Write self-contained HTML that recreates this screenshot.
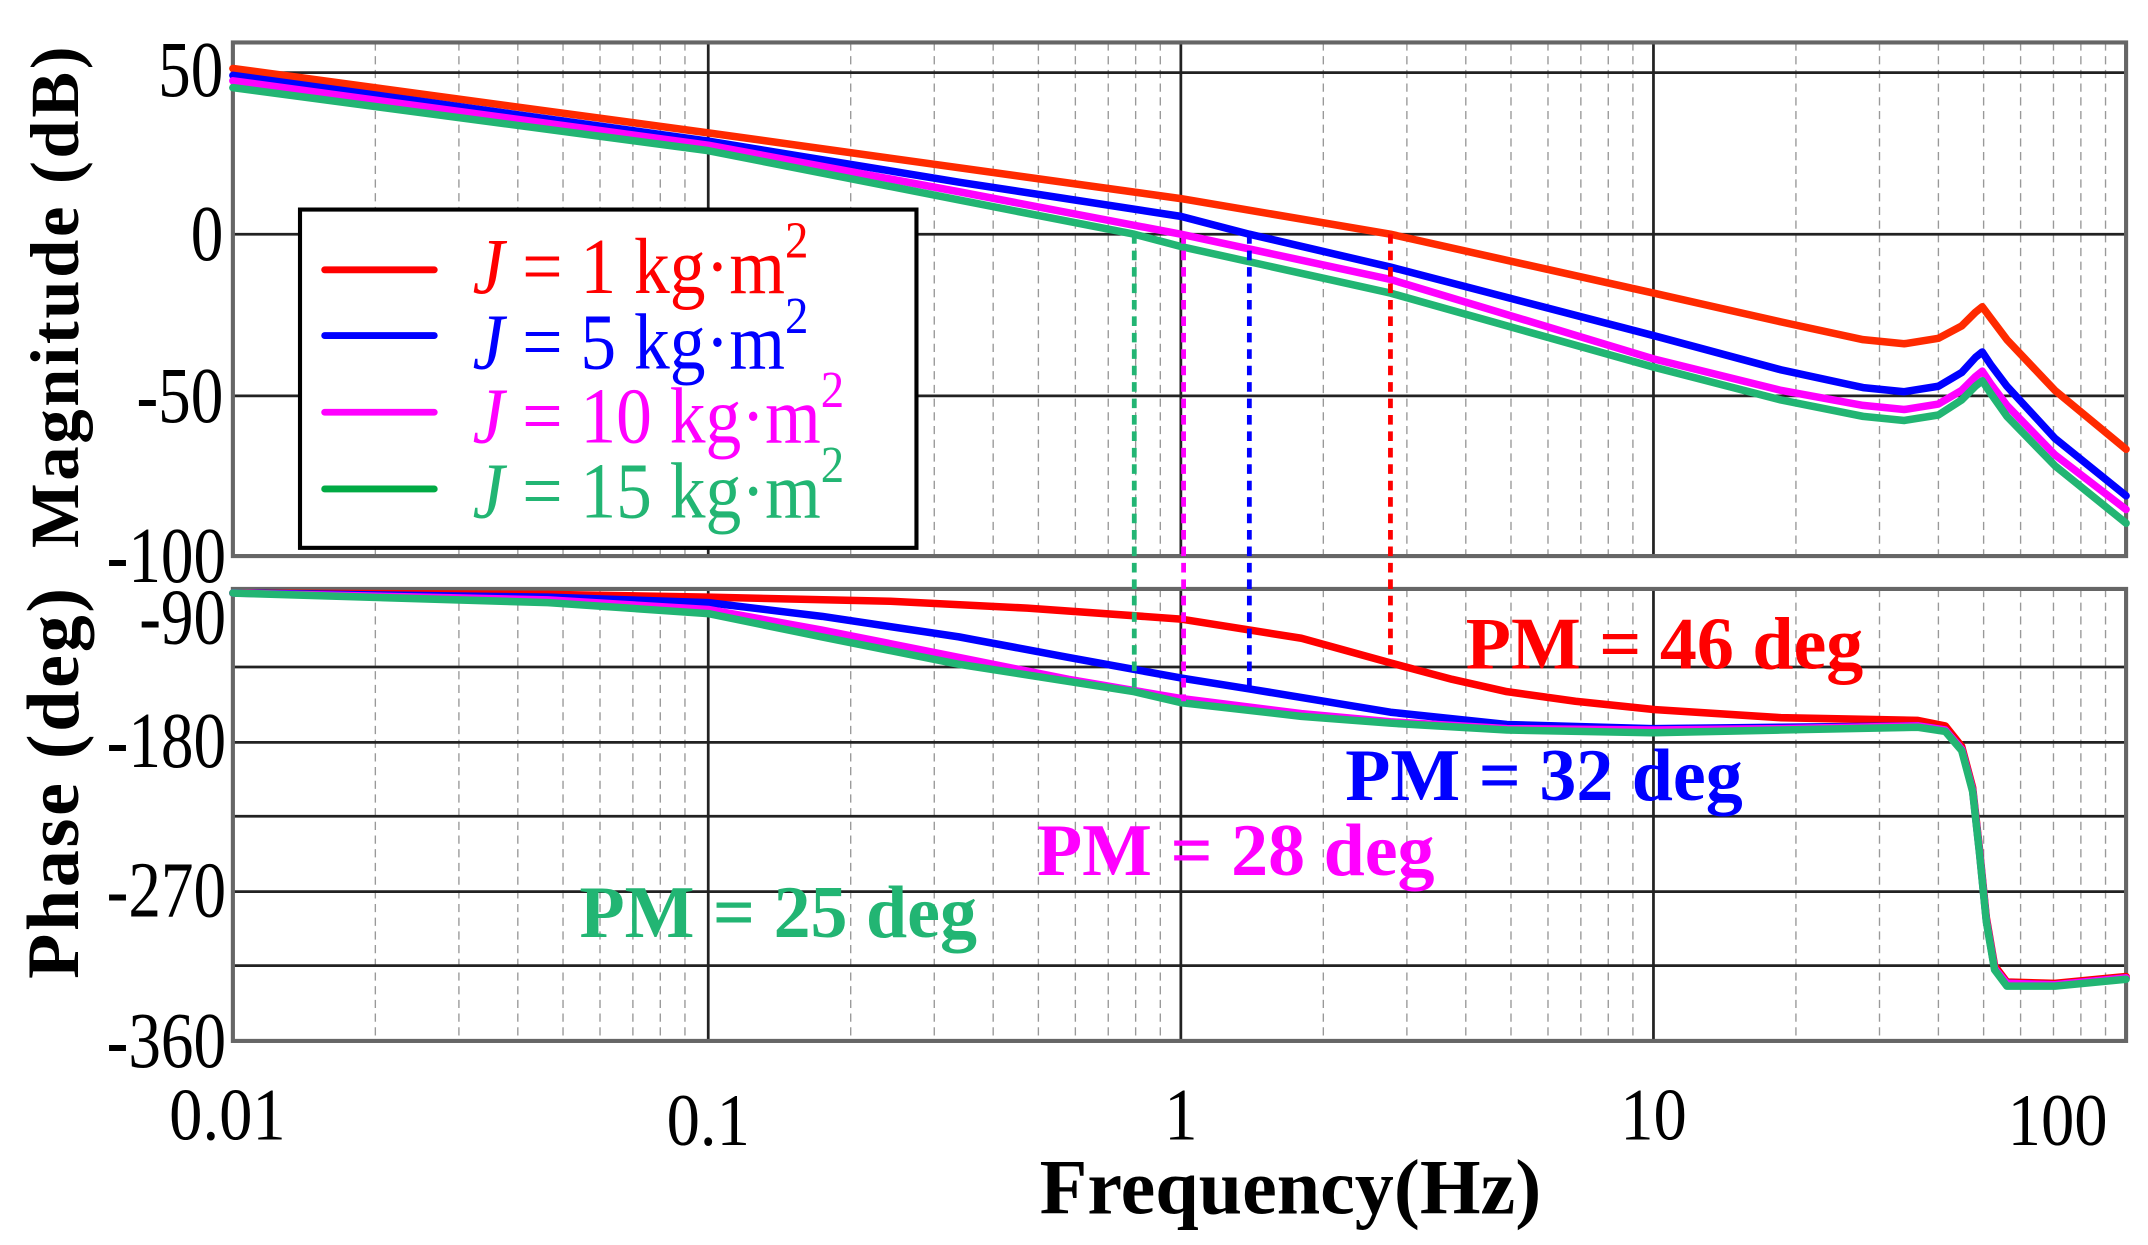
<!DOCTYPE html>
<html><head><meta charset="utf-8"><style>html,body{margin:0;padding:0;background:#fff}svg{display:block}</style></head>
<body>
<svg width="2148" height="1245" viewBox="0 0 1568 909" preserveAspectRatio="none" xmlns="http://www.w3.org/2000/svg" font-family="Liberation Serif, serif">
<rect width="1568" height="909" fill="#fff"/>
<g id="grid">
<g stroke="#999" stroke-width="1" stroke-dasharray="6,4">
<path d="M274 31V406M335 31V406M378 31V406M411 31V406M438 31V406M462 31V406M482 31V406M500 31V406
M621 31V406M682 31V406M725 31V406M758 31V406M785 31V406M809 31V406M829 31V406M847 31V406
M966 31V406M1027 31V406M1070 31V406M1103 31V406M1130 31V406M1154 31V406M1174 31V406M1192 31V406
M1311 31V406M1372 31V406M1415 31V406M1448 31V406M1475 31V406M1499 31V406M1519 31V406M1537 31V406"/>
<path d="M274 430V760M335 430V760M378 430V760M411 430V760M438 430V760M462 430V760M482 430V760M500 430V760
M621 430V760M682 430V760M725 430V760M758 430V760M785 430V760M809 430V760M829 430V760M847 430V760
M966 430V760M1027 430V760M1070 430V760M1103 430V760M1130 430V760M1154 430V760M1174 430V760M1192 430V760
M1311 430V760M1372 430V760M1415 430V760M1448 430V760M1475 430V760M1499 430V760M1519 430V760M1537 430V760"/>
</g>
<g stroke="#222" stroke-width="2">
<path d="M517 31V406M862 31V406M1207 31V406M170 53H1552M170 171H1552M170 289H1552"/>
<path d="M517 430V760M862 430V760M1207 430V760M170 487H1552M170 542H1552M170 596H1552M170 651H1552M170 705H1552"/>
</g>
<rect x="170" y="31" width="1382" height="375" fill="none" stroke="#666" stroke-width="3"/>
<rect x="170" y="430" width="1382" height="330" fill="none" stroke="#666" stroke-width="3"/>
</g>
<g fill="none" stroke-width="5.5" stroke-linejoin="round" stroke-linecap="round">
<polyline stroke="#ff2a00" points="170,50 517,97 862,145 1015,171 1207,214 1300,235 1360,248 1390,251 1415,247 1432,238 1442,228 1447,224 1453,232 1465,248 1500,285 1552,328"/>
<polyline stroke="#0000ff" points="170,55 517,103 700,133 862,158 912,171 1015,195 1207,245 1300,270 1360,283 1390,286 1415,282 1432,272 1442,261 1447,257 1453,266 1465,282 1500,320 1552,362"/>
<polyline stroke="#ff00ff" points="170,59 517,106 700,140 862,171 1015,204 1207,262 1300,285 1360,296 1390,299 1415,295 1432,285 1442,275 1447,271 1453,280 1465,296 1500,332 1552,372"/>
<polyline stroke="#22b573" points="170,64 517,110 700,146 828,171 862,180 1015,214 1207,268 1300,292 1360,304 1390,307 1415,303 1432,292 1442,282 1447,278 1453,287 1465,304 1500,340 1552,382"/>

<polyline stroke="#ff0000" points="170,433 400,434 517,436 650,439 750,444 862,452 950,466 1015,484 1060,496 1100,505 1150,512 1207,518 1300,524 1400,526 1420,530 1432,545 1440,575 1445,620 1450,670 1456,705 1465,717 1500,718 1552,713"/>
<polyline stroke="#0000ff" points="170,433 400,436 517,440 600,450 700,465 780,480 862,495 912,503 1015,520 1100,529 1207,532 1300,531 1400,530 1420,533 1432,547 1440,577 1445,622 1450,672 1456,707 1465,718 1500,719 1552,714"/>
<polyline stroke="#ff00ff" points="170,433 400,438 517,445 600,460 700,480 780,496 862,510 950,521 1015,527 1100,532 1207,533 1300,532 1400,530 1420,533 1432,547 1440,577 1445,622 1450,672 1456,707 1465,718 1500,719 1552,714"/>
<polyline stroke="#22b573" points="170,433 400,440 517,448 600,465 700,485 828,505 862,513 950,523 1015,528 1100,533 1207,535 1300,533 1400,531 1420,534 1432,548 1440,578 1445,623 1450,673 1456,708 1465,720 1500,720 1552,715"/>
</g>
<g fill="none" stroke-width="3.5" stroke-dasharray="7,5">
<path stroke="#22b573" d="M828 171V505"/>
<path stroke="#ff00ff" d="M864 171V512"/>
<path stroke="#0000ff" d="M912 171V503"/>
<path stroke="#ff0000" d="M1015 171V484"/>
</g>
<rect x="219" y="153" width="450" height="247" fill="#fff" stroke="#000" stroke-width="3"/>
<g stroke-width="5" stroke-linecap="round">
<path stroke="#ff0000" d="M237 197H317"/>
<path stroke="#0000ff" d="M237 245H317"/>
<path stroke="#ff00ff" d="M237 301H317"/>
<path stroke="#00aa44" d="M237 357H317"/>
</g>
<g font-size="58">
<text transform="translate(345,214) scale(0.9,1)" fill="#ff0000"><tspan font-style="italic">J</tspan> = 1 kg·m<tspan dy="-26" font-size="38">2</tspan></text>
<text transform="translate(345,269) scale(0.9,1)" fill="#0000ff"><tspan font-style="italic">J</tspan> = 5 kg·m<tspan dy="-26" font-size="38">2</tspan></text>
<text transform="translate(345,323) scale(0.9,1)" fill="#ff00ff"><tspan font-style="italic">J</tspan> = 10 kg·m<tspan dy="-26" font-size="38">2</tspan></text>
<text transform="translate(345,378) scale(0.9,1)" fill="#22b573"><tspan font-style="italic">J</tspan> = 15 kg·m<tspan dy="-26" font-size="38">2</tspan></text>
</g>
<g font-size="58" text-anchor="end" fill="#000">
<text transform="translate(163,70) scale(0.82,1)">50</text>
<text transform="translate(163,190) scale(0.82,1)">0</text>
<text transform="translate(163,308) scale(0.82,1)">-50</text>
<text transform="translate(165,425) scale(0.82,1)">-100</text>
<text transform="translate(165,470) scale(0.82,1)">-90</text>
<text transform="translate(165,560) scale(0.82,1)">-180</text>
<text transform="translate(165,669) scale(0.82,1)">-270</text>
<text transform="translate(165,779) scale(0.82,1)">-360</text>
</g>
<g font-size="54" text-anchor="middle" fill="#000">
<text transform="translate(166,832) scale(0.9,1)">0.01</text>
<text transform="translate(517,836) scale(0.9,1)">0.1</text>
<text transform="translate(862,832) scale(0.9,1)">1</text>
<text transform="translate(1207,832) scale(0.9,1)">10</text>
<text transform="translate(1502,836) scale(0.9,1)">100</text>
</g>
<text x="942" y="886" font-size="57" font-weight="bold" text-anchor="middle">Frequency(Hz)</text>
<text transform="translate(57,216) rotate(-90)" font-size="50" font-weight="bold" text-anchor="middle" letter-spacing="2">Magnitude (dB)</text>
<text transform="translate(57,571) rotate(-90)" font-size="54" font-weight="bold" text-anchor="middle" letter-spacing="2">Phase (deg)</text>
<g font-size="54" font-weight="bold">
<text x="1070" y="488" fill="#ff0000">PM = 46 deg</text>
<text x="982" y="584" fill="#0000ff">PM = 32 deg</text>
<text x="757" y="639" fill="#ff00ff">PM = 28 deg</text>
<text x="423" y="684" fill="#22b573">PM = 25 deg</text>
</g>
</svg>
</body></html>
